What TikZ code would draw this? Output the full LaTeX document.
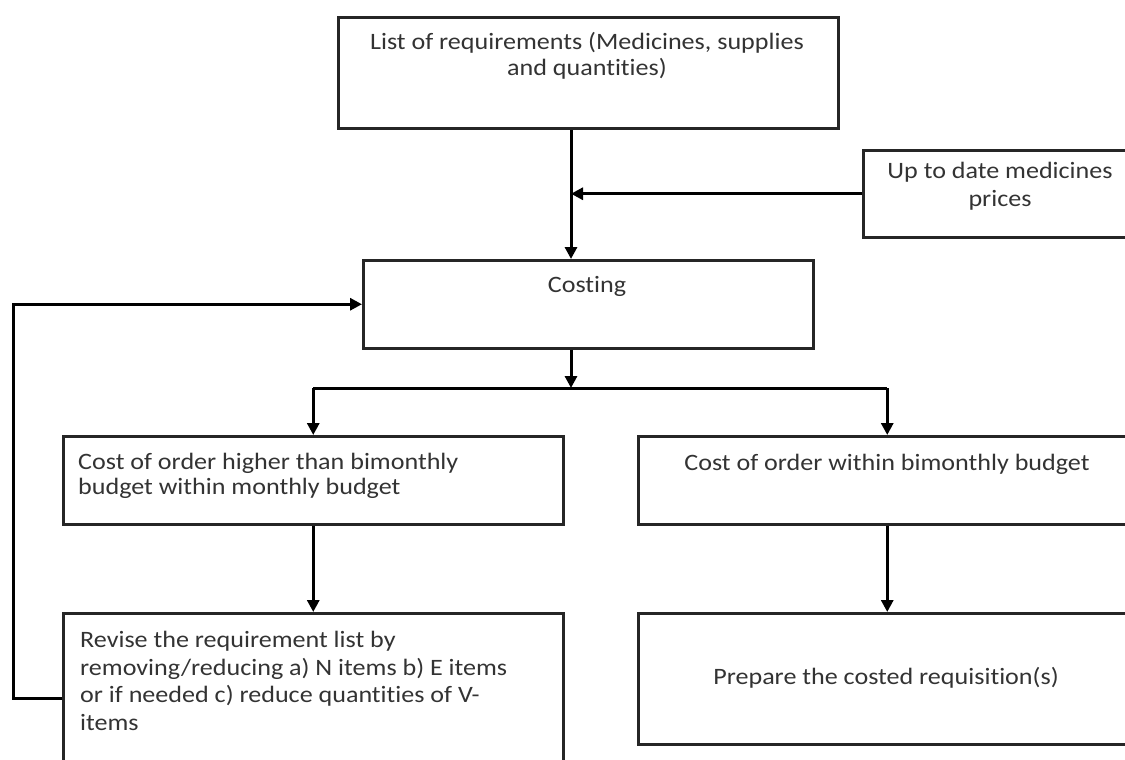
\documentclass[tikz,border=0pt]{standalone}
\usepackage{fontspec}
\setmainfont{Carlito}[FakeStretch=1.11, RawFeature={-liga;-clig;-calt;-dlig}]
\usetikzlibrary{arrows.meta}
\begin{document}
\begin{tikzpicture}[x=1pt,y=-1pt,
  box/.style={draw=black!85, line width=2.5pt, rectangle, inner sep=0pt, anchor=north west},
  lbl/.style={text=black!80, font=\fontsize{23.5}{27.5}\selectfont, inner sep=0pt},
  wire/.style={draw=black, line width=3pt},
  arr/.style={wire, -{Triangle[length=12pt,width=12pt]}}]
\useasboundingbox (0,0) rectangle (1125,760);
\clip (0,0) rectangle (1125,760);

% boxes
\node[box, line width=3pt, minimum width=500pt, minimum height=111pt] (req) at (337,16) {};
\node[box, minimum width=282pt, minimum height=87pt] (prices) at (862,149) {};
\node[box, minimum width=450pt, minimum height=88pt] (costing) at (362,259) {};
\node[box, minimum width=500pt, minimum height=88pt] (high) at (62,435) {};
\node[box, minimum width=498pt, minimum height=88pt] (within) at (637,435) {};
\node[box, minimum width=500pt, minimum height=200pt] (revise) at (62,612) {};
\node[box, minimum width=498pt, minimum height=131pt] (prepare) at (637,612) {};

% texts (multi-line labels are placed by the baseline of their last line)
\node[lbl, font=\fontsize{23.5}{25}\selectfont, anchor=base, align=center] (reqT) at (587,75) {List of requirements (Medicines, supplies\\and quantities)};
\node[lbl, anchor=base, align=center] (pricesT) at (1000,206) {Up to date medicines\\prices};
\node[lbl, anchor=base] (costingT) at (587,292) {Costing};
\node[lbl, font=\fontsize{23.5}{25}\selectfont, anchor=base west, align=left] (highT) at (78,494) {Cost of order higher than bimonthly\\budget within monthly budget};
\node[lbl, anchor=base] (withinT) at (887,470) {Cost of order within bimonthly budget};
\node[lbl, anchor=base west, align=left] (reviseT) at (80,730) {Revise the requirement list by\\removing/reducing a) N items b) E items\\or if needed c) reduce quantities of V-\\items};
\node[lbl, anchor=base] (prepareT) at (886,684) {Prepare the costed requisition(s)};

% connectors
\coordinate (spine) at (571,0);
\coordinate (split) at (571,388);
\coordinate (fb) at (13,698);
\draw[arr] (req.south -| spine) -- (costing.north -| spine);
\draw[arr] (prices.west) -- (prices.west -| spine);
\draw[arr] (costing.south -| split) -- (split);
\draw[wire] (split -| high.north) -- (split -| within.north);
\draw[arr] (split -| high.north) -- (high.north);
\draw[arr] (split -| within.north) -- (within.north);
\draw[arr] (high.south) -- (revise.north);
\draw[arr] (within.south) -- (prepare.north);
\draw[arr] (revise.west |- fb) -- (fb) -- (fb |- costing.west) -- (costing.west);
\end{tikzpicture}
\end{document}
